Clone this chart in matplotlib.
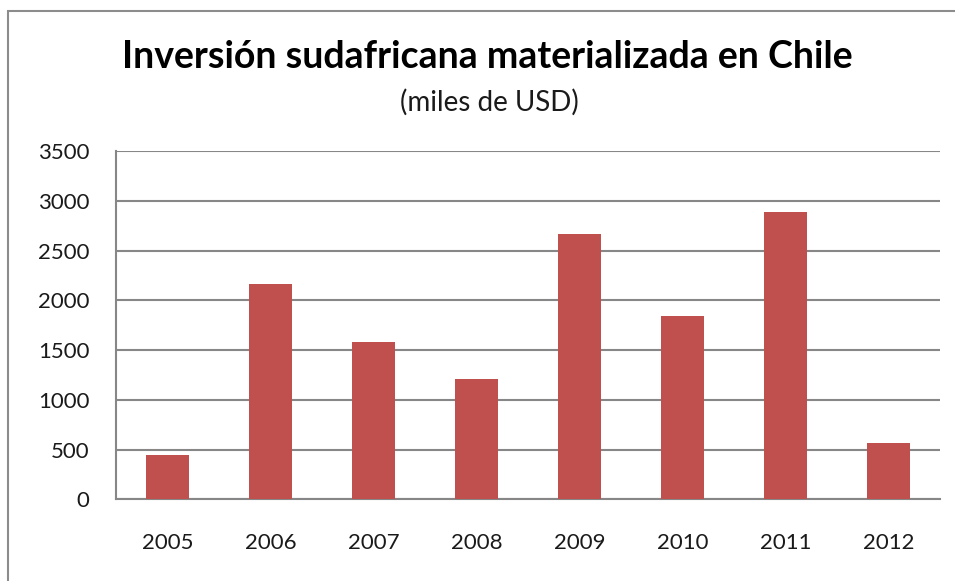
import numpy
import matplotlib
matplotlib.use("Agg")
import matplotlib.pyplot as plt
from matplotlib.patches import Rectangle

# inversion sudafricana materializada en Chile, miles de USD
years = ["2005", "2006", "2007", "2008", "2009", "2010", "2011", "2012"]
inversion = [450, 2160, 1578, 1212, 2663, 1839, 2887, 569]
y_ticks = [0, 500, 1000, 1500, 2000, 2500, 3000, 3500]

BAR_COLOR = "#C0504D"
GRID_COLOR = "#878787"
FONT = ["Lato", "DejaVu Sans"]


def main():
    plt.rcParams["font.family"] = FONT
    fig = plt.figure(figsize=(9.55, 5.81), dpi=100)
    ax = fig.add_axes([0.1215, 0.1406, 0.8628, 0.5995])

    # outer chart border (only top and left visible in the original)
    fig.patches.append(Rectangle((8 / 955, -0.1), 1.2, 1 - 11 / 581 + 0.1,
                                 transform=fig.transFigure, fill=False,
                                 edgecolor="#8c8c8c", linewidth=1.5))

    x = numpy.arange(len(years))
    ax.bar(x, inversion, width=0.41, color=BAR_COLOR, zorder=3)

    ax.set_xlim(-0.5, len(years) - 0.5)
    ax.set_ylim(0, 3500)
    ax.set_yticks(y_ticks)
    ax.set_xticks(x)
    ax.set_xticklabels(years)
    ax.yaxis.grid(True, color=GRID_COLOR, linewidth=1.5, zorder=0)
    ax.tick_params(axis="both", length=0, labelsize=16, colors="#1a1a1a")
    ax.tick_params(axis="y", pad=19)
    ax.tick_params(axis="x", pad=24)

    for side in ["top", "right"]:
        ax.spines[side].set_visible(False)
    for side in ["left", "bottom"]:
        ax.spines[side].set_color(GRID_COLOR)
        ax.spines[side].set_linewidth(1.5)

    fig.text(0.51, 1 - 57 / 581, "Inversión sudafricana materializada en Chile",
             ha="center", va="center", fontsize=27, fontweight="bold", color="black")
    fig.text(0.512, 1 - 102 / 581, "(miles de USD)",
             ha="center", va="center", fontsize=20, color="#1a1a1a")

    fig.savefig("out.png", dpi=100)


if __name__ == "__main__":
    main()
